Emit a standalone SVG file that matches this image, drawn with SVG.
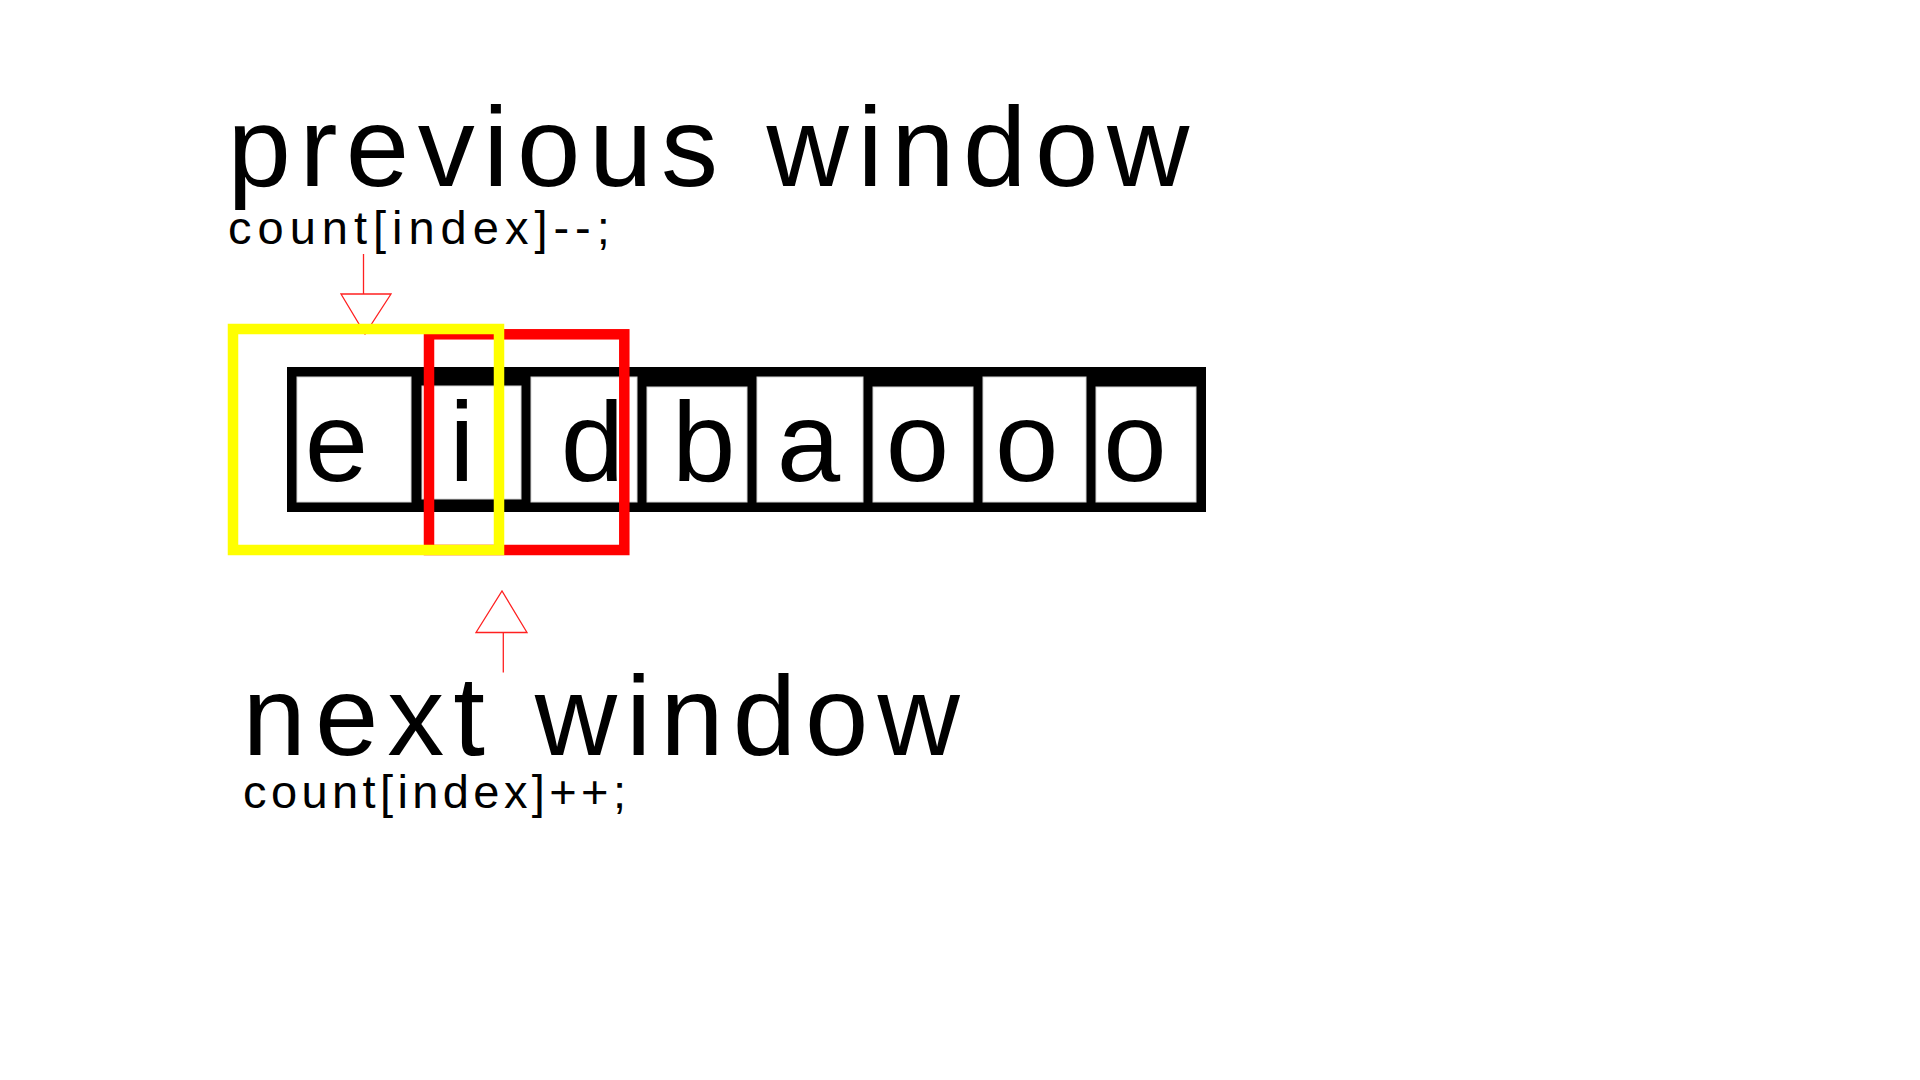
<svg xmlns="http://www.w3.org/2000/svg" width="1920" height="1080" viewBox="0 0 1920 1080">
<style>
.big{font-family:"Liberation Sans",Arial,sans-serif;font-size:114px;fill:#000;letter-spacing:8.5px}
.big2{letter-spacing:9px}
.code{font-family:"Liberation Sans",Arial,sans-serif;font-size:47px;fill:#000;letter-spacing:6px}
.code2{letter-spacing:4.4px}
.cell{fill:#fff;stroke:#d6d6d6;stroke-width:1}
.ch{font-family:"Liberation Sans",Arial,sans-serif;font-size:114px;fill:#000;text-anchor:middle}
.arrow{fill:none;stroke:#ff2020;stroke-width:1.3}
.win{fill:none;stroke-width:10.5}
</style>
<rect width="1920" height="1080" fill="#fff"/>
<g id="label-previous">
<text class="big" x="227.5" y="186">previous window</text>
<text class="code" x="228" y="244">count[index]--;</text>
</g>
<g id="label-next">
<text class="big big2" x="242.5" y="755">next window</text>
<text class="code code2" x="243" y="808">count[index]++;</text>
</g>
<g id="array">
<rect x="287" y="367" width="919" height="145" fill="#000"/>
<g id="cell-e"><rect class="cell" x="297" y="377" width="114" height="125"/><text class="ch" x="336.5" y="481">e</text></g>
<g id="cell-i"><rect class="cell" x="422" y="386" width="99" height="113"/><text class="ch" x="462" y="481">i</text></g>
<g id="cell-d"><rect class="cell" x="531" y="377" width="106" height="125"/><text class="ch" x="592.5" y="481">d</text></g>
<g id="cell-b"><rect class="cell" x="647" y="387" width="100" height="115"/><text class="ch" x="703.6" y="481">b</text></g>
<g id="cell-a"><rect class="cell" x="757" y="377" width="106" height="125"/><text class="ch" x="808.5" y="481">a</text></g>
<g id="cell-o1"><rect class="cell" x="873" y="387" width="100" height="115"/><text class="ch" x="917.5" y="481">o</text></g>
<g id="cell-o2"><rect class="cell" x="983" y="377" width="103" height="125"/><text class="ch" x="1026.7" y="481">o</text></g>
<g id="cell-o3"><rect class="cell" x="1096" y="387" width="100" height="115"/><text class="ch" x="1135" y="481">o</text></g>
</g>
<g id="connectors">
<line class="arrow" x1="363.5" y1="254" x2="363.5" y2="294"/>
<polygon class="arrow" points="341,294 391,294 365,334"/>
<line class="arrow" x1="503.3" y1="632.5" x2="503.3" y2="672.5"/>
<polygon class="arrow" points="476,632.5 527,632.5 502,591"/>
</g>
<g id="window-next">
<rect class="win" x="429" y="334.3" width="195.3" height="215.7" stroke="#ff0000"/>
</g>
<g id="window-previous">
<rect class="win" x="233" y="329" width="266" height="221" stroke="#ffff00"/>
</g>
</svg>
